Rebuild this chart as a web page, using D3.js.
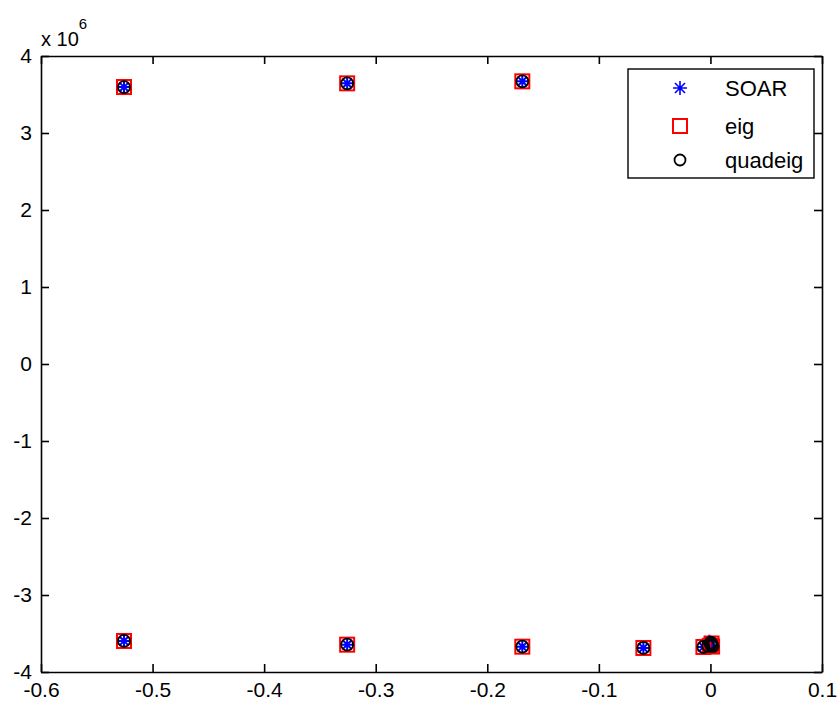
<!DOCTYPE html>
<html>
<head>
<meta charset="utf-8">
<script src="https://cdn.jsdelivr.net/npm/d3@7/dist/d3.min.js"></script>
<style>
  html, body { margin: 0; padding: 0; background: #fff; }
  svg { display: block; }
  text { font-family: "Liberation Sans", Arial, sans-serif; fill: #000; }
</style>
</head>
<body>
<svg id="chart" width="838" height="704"></svg>
<script>
// Eigenvalues in the complex plane: real part (x) and imaginary part (y, units of 1e6)
const soarRe  = [-0.5256, -0.5256, -0.3256, -0.3256, -0.1686, -0.1686, -0.0601, -0.0601, -0.0063, -0.0063, -0.0010, 0.0008];
const soarIm  = [ 3.597,  -3.597,   3.645,  -3.645,   3.671,  -3.671,   3.688,  -3.688,   3.675,  -3.675,  -3.600, -3.655];
const eigRe   = [-0.5256, -0.5256, -0.3256, -0.3256, -0.1686, -0.1686, -0.0601, -0.0601, -0.0063, -0.0063, -0.0005, 0.0010, 0.0015];
const eigIm   = [ 3.597,  -3.597,   3.645,  -3.645,   3.671,  -3.671,   3.688,  -3.688,   3.675,  -3.675,  -3.660, -3.630, -3.670];
const quadRe  = [-0.5256, -0.5256, -0.3256, -0.3256, -0.1686, -0.1686, -0.0601, -0.0601, -0.0063, -0.0063, -0.0020, 0.0000, 0.0010, 0.0020, 0.0005];
const quadIm  = [ 3.597,  -3.597,   3.645,  -3.645,   3.671,  -3.671,   3.688,  -3.688,   3.675,  -3.675,  -3.660, -3.630, -3.650, -3.665, -3.620];

const xTicks = [-0.6, -0.5, -0.4, -0.3, -0.2, -0.1, 0, 0.1];
const yTicks = [-4, -3, -2, -1, 0, 1, 2, 3, 4];
const legendNames = ["SOAR", "eig", "quadeig"];

const svg = d3.select("#chart");
const plotL = 41, plotR = 822, plotT = 56, plotB = 672;

const x = d3.scaleLinear().domain([-0.6, 0.1]).range([plotL, plotR]);
const y = d3.scaleLinear().domain([-4, 4]).range([plotB, plotT]);

const fmt = d => (d === 0 ? "0" : String(d));

// Marker painters
function star(g, cx, cy, r, color, w) {
  const d = r * 0.72;
  g.append("path")
    .attr("d", `M${cx - r},${cy}L${cx + r},${cy}M${cx},${cy - r}L${cx},${cy + r}` +
               `M${cx - d},${cy - d}L${cx + d},${cy + d}M${cx - d},${cy + d}L${cx + d},${cy - d}`)
    .attr("stroke", color).attr("stroke-width", w).attr("fill", "none");
}
function square(g, cx, cy, s, color) {
  g.append("rect").attr("x", cx - s / 2).attr("y", cy - s / 2)
    .attr("width", s).attr("height", s)
    .attr("fill", "none").attr("stroke", color).attr("stroke-width", 2);
}
function circle(g, cx, cy, r, color) {
  g.append("circle").attr("cx", cx).attr("cy", cy).attr("r", r)
    .attr("fill", "none").attr("stroke", color).attr("stroke-width", 1.8);
}

// Data marks
const marks = svg.append("g");
soarRe.forEach((v, i) => star(marks, x(v), y(soarIm[i]), 6.5, "#0000ff", 2));
eigRe.forEach((v, i) => square(marks, x(v), y(eigIm[i]), 14, "#ff0000"));
quadRe.forEach((v, i) => circle(marks, x(v), y(quadIm[i]), 6, "#000000"));

// Axes box with inward ticks
const axes = svg.append("g");
const tickLen = 8;
const xAxisB = d3.axisBottom(x).tickValues(xTicks).tickSizeInner(-tickLen).tickSizeOuter(0).tickFormat(fmt).tickPadding(10);
const xAxisT = d3.axisTop(x).tickValues(xTicks).tickSizeInner(-tickLen).tickSizeOuter(0).tickFormat("");
const yAxisL = d3.axisLeft(y).tickValues(yTicks).tickSizeInner(-tickLen).tickSizeOuter(0).tickFormat(fmt).tickPadding(9);
const yAxisR = d3.axisRight(y).tickValues(yTicks).tickSizeInner(-tickLen).tickSizeOuter(0).tickFormat("");

function styleAxis(g) {
  g.select(".domain").attr("stroke", "#000").attr("stroke-width", 1.6);
  g.selectAll(".tick line").attr("stroke", "#000").attr("stroke-width", 1.6);
  g.selectAll(".tick text").attr("font-size", 21).attr("fill", "#000")
    .attr("font-family", '"Liberation Sans", Arial, sans-serif');
}
axes.append("g").attr("transform", `translate(0,${plotB})`).call(xAxisB).call(styleAxis);
axes.append("g").attr("transform", `translate(0,${plotT})`).call(xAxisT).call(styleAxis);
axes.append("g").attr("transform", `translate(${plotL},0)`).call(yAxisL).call(styleAxis);
axes.append("g").attr("transform", `translate(${plotR},0)`).call(yAxisR).call(styleAxis);

// Exponent label for the y axis
const exp = svg.append("text").attr("x", 41).attr("y", 46).attr("font-size", 20);
exp.append("tspan").text("x 10");
exp.append("tspan").attr("dy", -17).attr("font-size", 15).text("6");

// Legend
const lg = svg.append("g");
lg.append("rect").attr("x", 628).attr("y", 69).attr("width", 186).attr("height", 109)
  .attr("fill", "#fff").attr("stroke", "#000").attr("stroke-width", 1.4);
const rowsY = [88, 126, 160];
star(lg, 680, rowsY[0], 7, "#0000ff", 1.6);
square(lg, 680, rowsY[1], 14, "#ff0000");
circle(lg, 680, rowsY[2], 5.5, "#000000");
legendNames.forEach((name, i) => {
  lg.append("text").attr("x", 725).attr("y", rowsY[i]).attr("dy", "0.36em")
    .attr("font-size", 22).text(name);
});
</script>
</body>
</html>
